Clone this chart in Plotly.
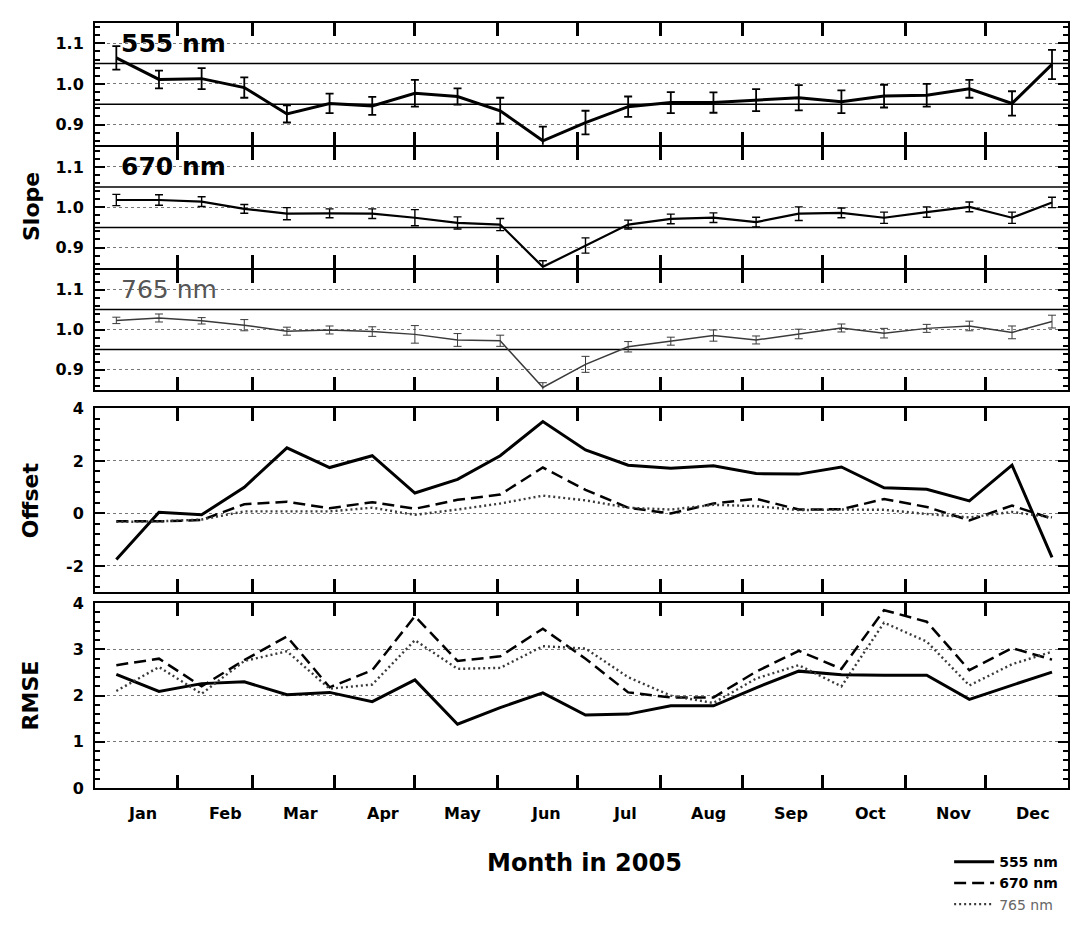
import plotly.graph_objects as go

# ---------------- data ----------------
# centre day-of-year of each 16-day composite period in 2005
doy = [8, 24, 40, 56, 72, 88, 104, 120, 136, 152, 168, 184,
       200, 216, 232, 248, 264, 280, 296, 312, 328, 344, 359]

months = ["Jan", "Feb", "Mar", "Apr", "May", "Jun",
          "Jul", "Aug", "Sep", "Oct", "Nov", "Dec"]
month_starts = [31, 59, 90, 120, 151, 181, 212, 243, 273, 304, 334]
month_label_pos = [18, 49, 77, 108, 138, 169, 199, 230, 261, 291, 322, 352]

slope_555 = [1.064, 1.011, 1.013, 0.991, 0.926, 0.952, 0.946, 0.977, 0.969, 0.934, 0.860, 0.905,
             0.944, 0.954, 0.954, 0.960, 0.966, 0.956, 0.970, 0.972, 0.988, 0.952, 1.048]
slope_555_err = [0.029, 0.022, 0.026, 0.025, 0.021, 0.024, 0.022, 0.033, 0.020, 0.032, 0.035, 0.029,
                 0.025, 0.026, 0.025, 0.027, 0.031, 0.028, 0.028, 0.028, 0.022, 0.030, 0.036]

slope_670 = [1.018, 1.018, 1.014, 0.996, 0.984, 0.985, 0.984, 0.974, 0.961, 0.957, 0.852, 0.905,
             0.957, 0.971, 0.974, 0.963, 0.984, 0.986, 0.974, 0.988, 1.001, 0.974, 1.012]
slope_670_err = [0.014, 0.013, 0.012, 0.011, 0.015, 0.011, 0.012, 0.020, 0.015, 0.015, 0.015, 0.019,
                 0.011, 0.012, 0.012, 0.012, 0.017, 0.012, 0.014, 0.013, 0.012, 0.014, 0.013]

slope_765 = [1.023, 1.029, 1.022, 1.011, 0.996, 0.999, 0.995, 0.988, 0.974, 0.972, 0.855, 0.913,
             0.957, 0.971, 0.985, 0.974, 0.989, 1.004, 0.991, 1.003, 1.009, 0.993, 1.020]
slope_765_err = [0.008, 0.010, 0.008, 0.014, 0.010, 0.010, 0.012, 0.022, 0.016, 0.014, 0.012, 0.020,
                 0.013, 0.010, 0.014, 0.010, 0.012, 0.010, 0.012, 0.010, 0.012, 0.016, 0.016]

offset_555 = [-1.75, 0.05, -0.05, 1.0, 2.5, 1.75, 2.2, 0.78, 1.3, 2.2, 3.5, 2.42,
              1.84, 1.72, 1.82, 1.52, 1.5, 1.77, 0.98, 0.92, 0.48, 1.84, -1.67]
offset_670 = [-0.3, -0.3, -0.25, 0.35, 0.45, 0.2, 0.43, 0.18, 0.52, 0.72, 1.75, 0.9,
              0.22, 0.0, 0.38, 0.56, 0.15, 0.16, 0.55, 0.25, -0.26, 0.3, -0.2]
offset_765 = [-0.32, -0.3, -0.23, 0.08, 0.08, 0.08, 0.22, -0.05, 0.15, 0.38, 0.68, 0.5,
              0.22, 0.15, 0.33, 0.28, 0.13, 0.15, 0.14, -0.02, -0.15, 0.06, -0.15]

rmse_555 = [2.46, 2.09, 2.26, 2.3, 2.02, 2.07, 1.87, 2.34, 1.38, 1.74, 2.06, 1.58,
            1.6, 1.78, 1.78, 2.17, 2.53, 2.45, 2.44, 2.44, 1.92, 2.22, 2.51]
rmse_670 = [2.66, 2.8, 2.2, 2.77, 3.28, 2.18, 2.55, 3.72, 2.75, 2.85, 3.45, 2.8,
            2.07, 1.96, 1.96, 2.52, 2.97, 2.58, 3.85, 3.6, 2.55, 3.03, 2.78]
rmse_765 = [2.1, 2.62, 2.04, 2.75, 2.96, 2.15, 2.24, 3.2, 2.58, 2.6, 3.07, 3.02,
            2.4, 2.0, 1.84, 2.37, 2.66, 2.2, 3.58, 3.17, 2.22, 2.68, 2.95]

slope_ref_lines = [0.95, 1.05]
band_names = ["555 nm", "670 nm", "765 nm"]

# ---------------- styles ----------------
FONT = "DejaVu Sans"
BLACK = "#000000"
GREY765 = "#3a3a3a"
line_styles = {
    "555 nm": dict(color=BLACK, width=3, dash="solid"),
    "670 nm": dict(color=BLACK, width=2.5, dash="12px,6px"),
    "765 nm": dict(color=GREY765, width=2.4, dash="2px,3px"),
}

fig = go.Figure()

# slope panels
slope_sets = [
    ("555 nm", slope_555, slope_555_err, "x", "y", dict(color=BLACK, width=3), 1.8),
    ("670 nm", slope_670, slope_670_err, "x2", "y2", dict(color=BLACK, width=2.2), 1.4),
    ("765 nm", slope_765, slope_765_err, "x3", "y3", dict(color=GREY765, width=1.5), 1.0),
]
for name, vals, errs, xa, ya, ln, eth in slope_sets:
    fig.add_trace(go.Scatter(
        x=doy, y=vals, mode="lines", line=ln, xaxis=xa, yaxis=ya, showlegend=False,
        error_y=dict(type="data", array=errs, visible=True, color=ln["color"],
                     thickness=eth, width=4)))

# offset and RMSE panels
for name, vals in zip(band_names, [offset_555, offset_670, offset_765]):
    fig.add_trace(go.Scatter(x=doy, y=vals, mode="lines", line=line_styles[name],
                             xaxis="x4", yaxis="y4", showlegend=False))
for name, vals in zip(band_names, [rmse_555, rmse_670, rmse_765]):
    label = "<b>%s</b>" % name if name != "765 nm" else "<span style='color:#666'>%s</span>" % name
    fig.add_trace(go.Scatter(x=doy, y=vals, mode="lines", line=line_styles[name],
                             xaxis="x5", yaxis="y5", name=label, showlegend=True))

# ---------------- axes ----------------
gap = 2.0 / 766  # so that adjoining frame lines coincide
domains = {
    "y": [0.8407, 1.0],
    "y2": [0.6802, 0.8407 - gap],
    "y3": [0.5209, 0.6802 - gap],
    "y4": [0.2559, 0.4961],
    "y5": [0.0, 0.2415],
}

def xaxis_cfg(anchor):
    return dict(
        domain=[0, 1], anchor=anchor, range=[0, 365], showgrid=False, zeroline=False,
        showline=True, linecolor=BLACK, linewidth=2, mirror="ticks",
        tickmode="array", tickvals=month_starts, showticklabels=False,
        ticks="inside", ticklen=13, tickwidth=2.5, tickcolor=BLACK,
    )

def yaxis_cfg(dom, rng, tickvals, ticktext, minor_dtick):
    return dict(
        domain=dom, range=rng, showline=True, linecolor=BLACK, linewidth=2, mirror="ticks",
        zeroline=False, tickmode="array", tickvals=tickvals, ticktext=ticktext,
        ticks="inside", ticklen=10, tickwidth=2, tickcolor=BLACK,
        tickfont=dict(family=FONT, size=16, color=BLACK, weight="bold"),
        ticklabelstandoff=6,
        showgrid=True, gridcolor="#777777", griddash="dot", gridwidth=1,
        minor=dict(dtick=minor_dtick, tick0=0, ticks="inside", ticklen=5,
                   tickwidth=1.5, tickcolor=BLACK, showgrid=False),
    )

slope_ticks = [0.9, 1.0, 1.1]
slope_ticktext = ["0.9", "1.0", "1.1"]

fig.update_layout(
    xaxis=xaxis_cfg("y"),
    xaxis2=dict(xaxis_cfg("y2"), matches="x"),
    xaxis3=dict(xaxis_cfg("y3"), matches="x"),
    xaxis4=dict(xaxis_cfg("y4"), matches="x"),
    xaxis5=dict(xaxis_cfg("y5"), matches="x"),
    yaxis=dict(yaxis_cfg(domains["y"], [0.85, 1.15], slope_ticks, slope_ticktext, 0.02), anchor="x"),
    yaxis2=dict(yaxis_cfg(domains["y2"], [0.85, 1.15], slope_ticks, slope_ticktext, 0.02), anchor="x2"),
    yaxis3=dict(yaxis_cfg(domains["y3"], [0.85, 1.15], slope_ticks, slope_ticktext, 0.02), anchor="x3"),
    yaxis4=dict(yaxis_cfg(domains["y4"], [-3, 4], [-2, 0, 2, 4], ["-2", "0", "2", "4"], 0.4), anchor="x4"),
    yaxis5=dict(yaxis_cfg(domains["y5"], [0, 4], [0, 1, 2, 3, 4], ["0", "1", "2", "3", "4"], 0.2), anchor="x5"),
)

# solid reference lines in slope panels
for ya in ["y", "y2", "y3"]:
    xa = "x" if ya == "y" else "x" + ya[1:]
    for v in slope_ref_lines:
        fig.add_shape(type="line", xref=xa + " domain", yref=ya, x0=0, x1=1, y0=v, y1=v,
                      line=dict(color=BLACK, width=1.5), layer="below")

# ---------------- annotations ----------------
ann = []
for m, pos in zip(months, month_label_pos):
    ann.append(dict(text=m, x=pos, y=0, xref="x5", yref="paper", xanchor="center",
                    yanchor="top", yshift=-14, showarrow=False,
                    font=dict(family=FONT, size=16, color=BLACK, weight="bold")))

panel_label_styles = [
    ("555 nm", "x", "y", BLACK, "bold"),
    ("670 nm", "x2", "y2", BLACK, "bold"),
    ("765 nm", "x3", "y3", "#555555", "normal"),
]
for txt, xa, ya, col, wt in panel_label_styles:
    ann.append(dict(text=txt, x=9, y=1.1, xref=xa, yref=ya, xanchor="left", yanchor="middle",
                    showarrow=False, font=dict(family=FONT, size=25, color=col, weight=wt)))

for txt, yc in [("Slope", 0.7605), ("Offset", 0.376), ("RMSE", 0.1207)]:
    ann.append(dict(text=txt, x=-0.066, y=yc, xref="paper", yref="paper", textangle=-90,
                    xanchor="center", yanchor="middle", showarrow=False,
                    font=dict(family=FONT, size=22, color=BLACK, weight="bold")))
ann.append(dict(text="Month in 2005", x=0.5026, y=-0.098, xref="paper", yref="paper",
                xanchor="center", yanchor="middle", showarrow=False,
                font=dict(family=FONT, size=24, color=BLACK, weight="bold")))

fig.update_layout(
    annotations=ann,
    width=1075, height=925,
    margin=dict(l=95, r=5, t=23, b=136),
    paper_bgcolor="white", plot_bgcolor="white",
    font=dict(family=FONT, color=BLACK),
    legend=dict(x=0.995, xanchor="right", y=-0.076, yanchor="top",
                font=dict(family=FONT, size=14, color=BLACK),
                bgcolor="rgba(0,0,0,0)", tracegroupgap=0, itemwidth=40),
)

fig.write_html("out.html")
